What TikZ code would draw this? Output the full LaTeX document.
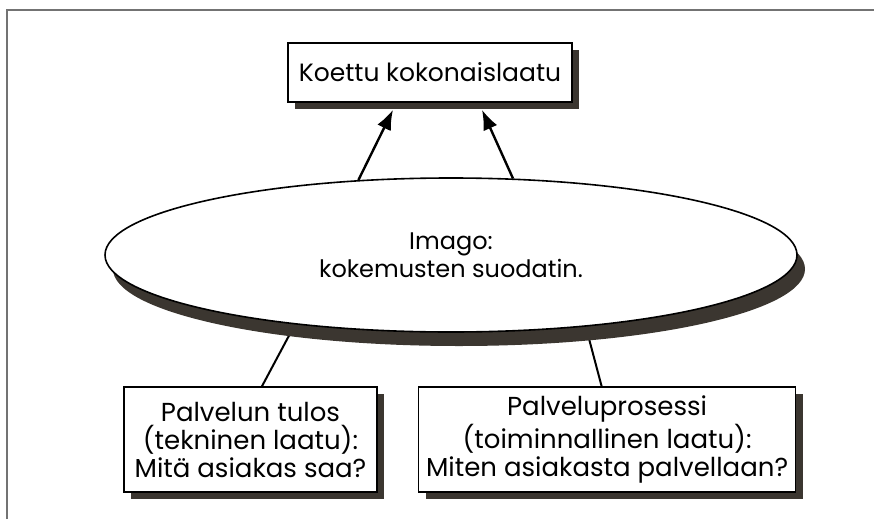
\documentclass[tikz,border=0pt]{standalone}
\usepackage{fontspec}
\setmainfont{Poppins}
\usepackage{tikz}
\usetikzlibrary{arrows.meta,calc,positioning,shapes.geometric,shadows,backgrounds}
\definecolor{varjo}{rgb}{0.23,0.21,0.19}
\definecolor{kehys}{rgb}{0.45,0.45,0.45}

\begin{document}
\begin{tikzpicture}[x=1pt,y=1pt,>={Latex[length=20pt,width=15pt]},line width=1.6pt,
font=\fontsize{25}{27}\selectfont]
\tikzstyle{laatu}=[draw,fill=white,align=center,inner sep=0pt,
  drop shadow={shadow xshift=7pt,shadow yshift=-7pt,fill=varjo,opacity=1}]
\tikzstyle{suodatin}=[ellipse,draw,fill=white,align=center,inner sep=0pt,
  minimum width=692pt,minimum height=154pt,font=\fontsize{24}{28}\selectfont,
  drop shadow={shadow xshift=8pt,shadow yshift=-14pt,fill=varjo,opacity=1}]
\useasboundingbox (0,0) rectangle (874,-519);

% kehys
\draw[kehys,line width=1.8pt] (7,-519) -- (7,-10) -- (874,-10);

\node[laatu,minimum width=284pt,minimum height=59pt] (koettu) at (430,-72.5) {Koettu kokonaislaatu};
\node[suodatin] (imago) at (451,-255) {Imago:\\kokemusten suodatin.};
\node[laatu,minimum width=253pt,minimum height=105pt,font=\fontsize{26}{28}\selectfont] (tulos) at (250.5,-439.5)
  {Palvelun tulos\\(tekninen laatu):\\Mitä asiakas saa?};
\node[laatu,minimum width=377pt,minimum height=105pt,font=\fontsize{26}{28}\selectfont] (prosessi) [right=40pt of tulos]
  {Palveluprosessi\\(toiminnallinen laatu):\\Miten asiakasta palvellaan?};

\path[->,line width=2.4pt] (imago.141) edge ($(koettu.south)+(-37,-7)$)
(imago.51) edge ($(koettu.south)+(52,-7)$);

\begin{scope}[on background layer]
\path[line width=2pt] (tulos.north)++(11.5,0) edge (imago.204)
(prosessi.north)++(-5.5,0) edge (imago.332);
\end{scope}

\end{tikzpicture}
\end{document}
